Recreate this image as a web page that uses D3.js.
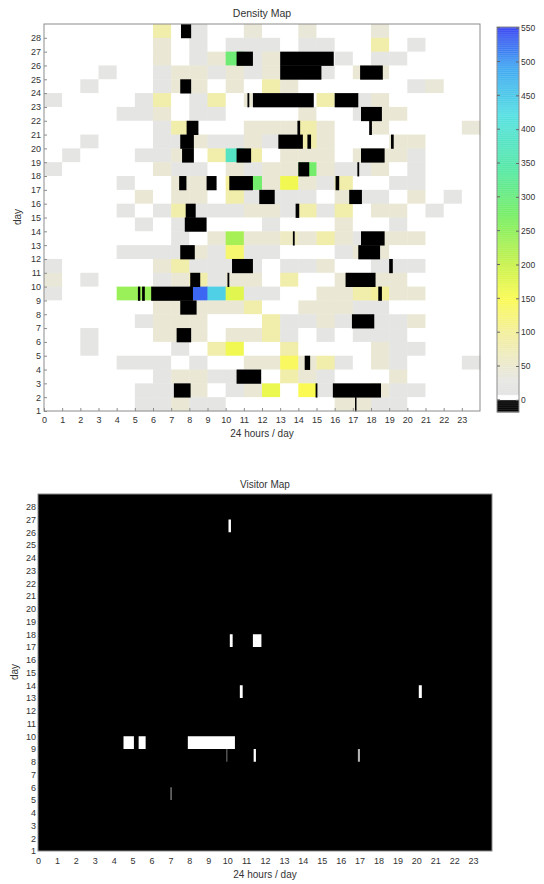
<!DOCTYPE html>
<html>
<head>
<meta charset="utf-8">
<script src="https://cdn.jsdelivr.net/npm/d3@7"></script>
<style>
  body { margin: 0; background: #fff; }
  svg text { font-family: "Liberation Sans", Arial, Helvetica, sans-serif; fill: #333; }
</style>
</head>
<body>
<svg id="chart" width="544" height="884"></svg>
<script>
// hours of the day (x) and days (y)
const hourTicks = [0,1,2,3,4,5,6,7,8,9,10,11,12,13,14,15,16,17,18,19,20,21,22,23];
const dayTicks = [1,2,3,4,5,6,7,8,9,10,11,12,13,14,15,16,17,18,19,20,21,22,23,24,25,26,27,28];
const colorTicks = [0,50,100,150,200,250,300,350,400,450,500,550];

// density per hour cell, one row per day, top row = day 28
const densityDays = [28,27,26,25,24,23,22,21,20,19,18,17,16,15,14,13,12,11,10,9,8,7,6,5,4,3,2,1];
const density = [
  [0,0,0,0,0,0,85,0,20,0,0,40,0,0,40,0,0,0,40,0,0,0,0,0],
  [0,0,0,0,0,0,45,0,20,0,20,20,20,0,20,20,0,0,85,0,20,0,0,0],
  [0,0,0,0,0,0,45,0,20,45,290,20,45,0,0,0,20,0,20,20,0,0,0,0],
  [0,0,0,20,0,0,20,45,45,20,45,20,45,0,0,20,0,45,45,0,0,0,0,0],
  [0,0,20,0,0,0,20,45,45,0,45,0,85,45,0,0,0,0,0,0,20,40,0,0],
  [20,0,0,0,0,20,85,0,20,85,0,45,0,0,0,85,0,20,45,0,0,0,0,0],
  [0,0,0,0,20,20,45,0,20,20,0,0,0,0,45,0,0,20,45,45,0,0,0,0],
  [0,0,0,0,0,0,20,85,0,0,0,45,45,45,85,45,0,0,45,0,0,0,0,40],
  [0,0,20,0,0,0,20,20,45,20,20,45,20,0,85,45,0,0,0,45,45,0,0,0],
  [0,20,0,0,0,20,20,45,0,85,380,85,0,45,45,45,0,45,45,45,20,0,0,0],
  [20,0,0,0,0,0,45,20,20,0,45,20,45,45,280,45,20,20,45,0,20,0,0,0],
  [0,0,0,0,20,0,0,45,45,0,100,280,45,160,45,20,85,0,0,20,20,0,0,0],
  [0,0,0,0,0,45,0,45,45,0,85,20,20,20,20,0,45,20,20,0,45,0,20,0],
  [0,0,0,0,20,0,20,85,20,20,20,45,45,20,85,20,85,0,45,45,0,20,0,0],
  [0,0,0,0,0,20,0,20,0,0,0,0,20,0,0,0,45,0,0,20,0,0,0,0],
  [0,0,0,0,0,0,0,20,0,45,230,45,45,60,45,85,45,20,45,45,45,0,0,0],
  [0,0,0,0,20,20,20,20,45,20,130,20,20,0,0,0,20,45,45,0,0,0,0,0],
  [20,0,0,0,0,0,45,85,20,20,20,20,0,20,20,45,0,0,20,20,20,0,0,0],
  [40,0,20,0,0,0,20,45,85,20,45,45,0,85,0,0,45,0,45,45,0,0,0,0],
  [20,0,0,0,240,240,0,0,530,440,175,20,20,0,0,45,45,85,100,45,45,0,0,0],
  [0,0,0,0,0,0,45,45,45,45,45,85,0,0,45,45,45,20,20,0,0,0,0,0],
  [0,0,0,0,0,20,45,45,45,0,0,0,85,20,20,45,20,0,20,20,45,0,0,0],
  [0,0,20,0,0,0,45,45,45,0,45,45,85,20,0,20,0,20,20,20,0,0,0,0],
  [0,0,20,0,0,0,0,20,0,85,160,0,0,85,0,0,0,0,45,20,20,0,0,0],
  [0,0,0,0,20,20,20,0,20,0,0,45,45,140,45,85,20,0,45,20,0,0,0,20],
  [0,0,0,0,0,0,20,45,45,20,20,20,0,85,45,20,0,0,0,45,0,0,0,0],
  [0,0,0,0,0,20,20,20,45,0,20,45,165,0,150,20,0,0,45,20,20,0,0,0],
  [0,0,0,0,0,20,20,45,20,20,0,0,0,0,0,0,45,45,20,20,0,0,0,0]
];

// negative (black) stretches on the density map, in fractional hours
const blackDay   = [28,26,26,25,25,24,23,23,23,22,21,21,21,20,20,20,20,19,19,19,18,18,17,17,17,17,16,16,15,15,14,13,13,12,12,11,11,10,10,10,9,9,9,9,8,7,6,4,3,2,2,2,1];
const blackStart = [7.54,10.6,13.0,13.0,17.4,7.5,11.2,11.5,16.0,17.45,7.85,13.95,17.9,7.5,12.9,14.5,19.1,7.6,10.6,17.45,14.0,17.25,7.44,8.95,10.2,16.05,11.85,16.8,7.8,13.85,7.75,13.7,17.45,7.5,17.3,10.35,19.0,8.05,10.1,16.6,5.17,5.4,5.9,18.4,7.5,16.95,7.3,14.35,10.6,7.15,14.95,15.9,17.12];
const blackEnd   = [8.1,11.5,15.95,15.27,18.65,8.1,11.3,14.85,17.3,18.6,8.5,14.1,18.05,8.25,14.25,14.7,19.25,8.25,11.4,18.75,14.6,17.35,7.84,9.5,11.5,16.25,12.7,17.5,8.35,14.05,8.95,13.8,18.75,8.3,18.5,11.5,19.2,8.6,10.2,18.25,5.3,5.55,8.2,18.6,8.4,18.18,8.1,14.65,11.95,8.07,15.05,18.55,17.2];

// visitor map stretches
const visitDay   = [26,17,17,13,13,9,9,9,8,8,8,5];
const visitStart = [10.07,10.14,11.36,10.67,20.13,4.52,5.32,7.92,9.95,11.4,16.91,7.0];
const visitEnd   = [10.2,10.29,11.81,10.82,20.29,5.07,5.69,10.41,10.0,11.52,17.02,7.07];
const visitLevel = [1,1,1,1,1,1,1,1,0.4,1,0.7,0.5];

const colorStops  = [0,6,8,28,50,100,150,200,270,340,420,490,550];
const colorValues = ['#ffffff','#ffffff','#e3e3e3','#e6e6e3','#ebe9cf','#f3ef9a','#fafa52','#c8f24c','#78ee62','#55e8a4','#55e0e2','#40a8f2','#3a46f2'];
const color = d3.scaleLinear().domain(colorStops).range(colorValues).clamp(true);
const fillOf = v => v < 0 ? '#000' : color(v);

const svg = d3.select('#chart');
const frameColor = '#8c8c8c';

// ---------- Density map ----------
const d1 = { left: 44, right: 480, top: 24, bottom: 411 };
const x1 = d3.scaleLinear().domain([0, 24]).range([d1.left, d1.right]);
const y1 = d3.scaleLinear().domain([1, 29]).range([d1.bottom, d1.top]);

const g1 = svg.append('g');
const cells = [];
densityDays.forEach((day, i) => {
  hourTicks.forEach(h => cells.push({ day: day, hour: h, value: density[i][h] }));
});
g1.append('g').selectAll('rect')
  .data(cells)
  .join('rect')
  .attr('x', d => x1(d.hour))
  .attr('y', d => y1(d.day + 1))
  .attr('width', d => x1(d.hour + 1) - x1(d.hour) + 0.4)
  .attr('height', d => y1(d.day) - y1(d.day + 1) + 0.4)
  .attr('fill', d => fillOf(d.value));

g1.append('g').selectAll('rect')
  .data(blackDay.map((d, i) => ({ day: d, start: blackStart[i], end: blackEnd[i] })))
  .join('rect')
  .attr('x', d => x1(d.start))
  .attr('y', d => y1(d.day + 1))
  .attr('width', d => Math.max(1.5, x1(d.end) - x1(d.start)))
  .attr('height', d => y1(d.day) - y1(d.day + 1) + 0.4)
  .attr('fill', '#000');

g1.append('rect')
  .attr('x', d1.left).attr('y', d1.top)
  .attr('width', d1.right - d1.left).attr('height', d1.bottom - d1.top)
  .attr('fill', 'none').attr('stroke', frameColor);

const ax1 = g1.append('g')
  .attr('transform', `translate(0,${d1.bottom})`)
  .call(d3.axisBottom(x1).tickValues(hourTicks).tickSize(-3).tickPadding(6).tickSizeOuter(0));
const ay1 = g1.append('g')
  .attr('transform', `translate(${d1.left},0)`)
  .call(d3.axisLeft(y1).tickValues(dayTicks).tickSize(-3).tickPadding(3).tickSizeOuter(0));
[ax1, ay1].forEach(a => {
  a.select('.domain').remove();
  a.selectAll('line').attr('stroke', frameColor);
  a.selectAll('text').style('font-size', '9px');
});

g1.append('text').attr('x', 262).attr('y', 17).attr('text-anchor', 'middle')
  .style('font-size', '10.5px').text('Density Map');
g1.append('text').attr('x', 262).attr('y', 437).attr('text-anchor', 'middle')
  .style('font-size', '10px').text('24 hours / day');
g1.append('text').attr('transform', 'translate(21,217) rotate(-90)').attr('text-anchor', 'middle')
  .style('font-size', '10px').text('day');

// colorbar
const cb = { left: 497, right: 519 };
const yc = d3.scaleLinear().domain([-18, 551]).range([412, 27]);
g1.append('g').selectAll('rect')
  .data(d3.range(-18, 551, 1))
  .join('rect')
  .attr('x', cb.left)
  .attr('y', v => yc(v + 1))
  .attr('width', cb.right - cb.left)
  .attr('height', v => yc(v) - yc(v + 1) + 0.3)
  .attr('fill', v => fillOf(v));
g1.append('rect')
  .attr('x', cb.left).attr('y', yc(551))
  .attr('width', cb.right - cb.left).attr('height', yc(-18) - yc(551))
  .attr('fill', 'none').attr('stroke', frameColor);
const acb = g1.append('g')
  .attr('transform', `translate(${cb.right},0)`)
  .call(d3.axisRight(yc).tickValues(colorTicks).tickSize(-3).tickPadding(2).tickSizeOuter(0));
acb.select('.domain').remove();
acb.selectAll('line').attr('stroke', '#666');
acb.selectAll('text').style('font-size', '8.5px');
g1.append('g').selectAll('line')
  .data(colorTicks)
  .join('line')
  .attr('x1', cb.left).attr('x2', cb.left + 3)
  .attr('y1', v => yc(v)).attr('y2', v => yc(v))
  .attr('stroke', '#666');

// ---------- Visitor map ----------
const d2 = { left: 38, right: 492, top: 494, bottom: 851 };
const x2 = d3.scaleLinear().domain([0, 24]).range([d2.left, d2.right]);
const y2 = d3.scaleLinear().domain([1, 29]).range([d2.bottom, d2.top]);
const g2 = svg.append('g');

g2.append('rect')
  .attr('x', d2.left).attr('y', d2.top)
  .attr('width', d2.right - d2.left).attr('height', d2.bottom - d2.top)
  .attr('fill', '#000').attr('stroke', frameColor);

g2.append('g').selectAll('rect')
  .data(visitDay.map((d, i) => ({ day: d, start: visitStart[i], end: visitEnd[i], level: visitLevel[i] })))
  .join('rect')
  .attr('x', d => x2(d.start))
  .attr('y', d => y2(d.day + 1))
  .attr('width', d => Math.max(1.2, x2(d.end) - x2(d.start)))
  .attr('height', d => y2(d.day) - y2(d.day + 1))
  .attr('fill', '#fff')
  .attr('fill-opacity', d => d.level);

const ax2 = g2.append('g')
  .attr('transform', `translate(0,${d2.bottom})`)
  .call(d3.axisBottom(x2).tickValues(hourTicks).tickSize(0).tickPadding(7).tickSizeOuter(0));
const ay2 = g2.append('g')
  .attr('transform', `translate(${d2.left},0)`)
  .call(d3.axisLeft(y2).tickValues(dayTicks).tickSize(0).tickPadding(2).tickSizeOuter(0));
[ax2, ay2].forEach(a => {
  a.select('.domain').remove();
  a.selectAll('text').style('font-size', '9px');
});

g2.append('text').attr('x', 265).attr('y', 488).attr('text-anchor', 'middle')
  .style('font-size', '10px').text('Visitor Map');
g2.append('text').attr('x', 265).attr('y', 878).attr('text-anchor', 'middle')
  .style('font-size', '10px').text('24 hours / day');
g2.append('text').attr('transform', 'translate(18,672) rotate(-90)').attr('text-anchor', 'middle')
  .style('font-size', '10px').text('day');
</script>
</body>
</html>
